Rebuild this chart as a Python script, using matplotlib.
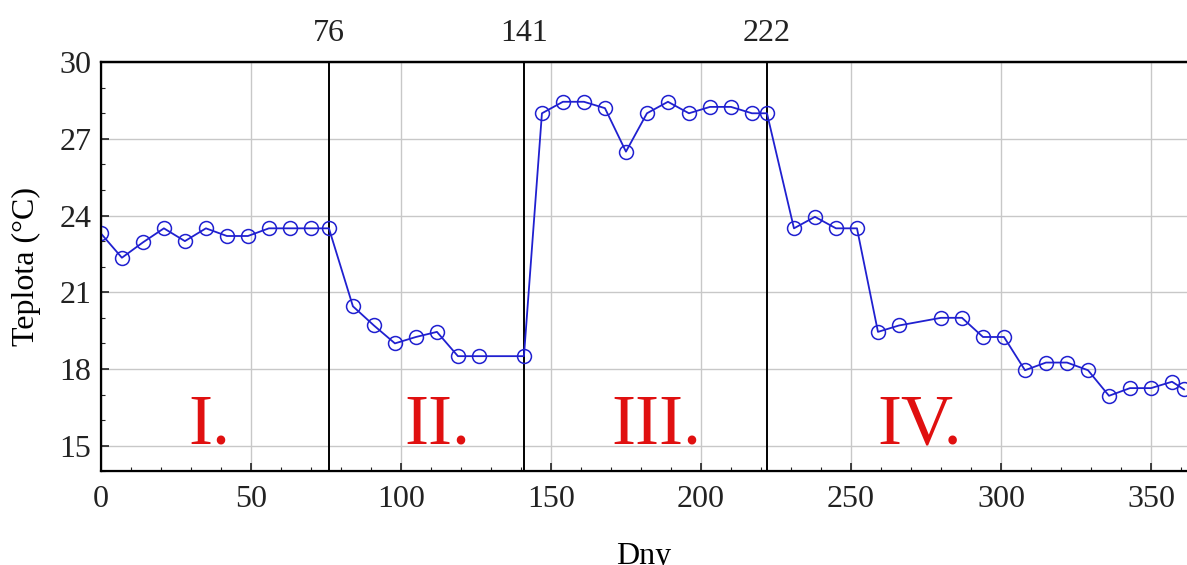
import matplotlib
matplotlib.use('Agg')
from matplotlib import pyplot as plt
from matplotlib.ticker import MultipleLocator

# weekly temperature readings
days = [0, 7, 14, 21, 28, 35, 42, 49, 56, 63, 70, 76,
        84, 91, 98, 105, 112, 119, 126, 141,
        147, 154, 161, 168, 175, 182, 189, 196, 203, 210, 217, 222,
        231, 238, 245, 252, 259, 266, 280, 287, 294, 301,
        308, 315, 322, 329, 336, 343, 350, 357, 361]
temp = [23.3, 22.35, 22.95, 23.5, 23.0, 23.5, 23.2, 23.2, 23.5, 23.5, 23.5, 23.5,
        20.45, 19.7, 19.0, 19.25, 19.45, 18.5, 18.5, 18.5,
        28.0, 28.45, 28.45, 28.2, 26.5, 28.0, 28.45, 28.0, 28.25, 28.25, 28.0, 28.0,
        23.5, 23.95, 23.5, 23.5, 19.45, 19.7, 20.0, 20.0, 19.25, 19.25,
        17.95, 18.25, 18.25, 17.95, 16.95, 17.25, 17.25, 17.5, 17.2]

boundaries = [76, 141, 222]
phases = ['I.', 'II.', 'III.', 'IV.']
phase_x = [36, 112, 185, 273]

plt.rcParams['font.family'] = ['Liberation Serif', 'DejaVu Serif']
fig = plt.figure(figsize=(11.87, 5.65), dpi=100)
ax = fig.add_axes([0.085, 0.166, 0.915, 0.724])

ax.plot(days, temp, color='#2020d0', linewidth=1.3, marker='o', markersize=10,
        markerfacecolor='none', markeredgecolor='#2020d0', markeredgewidth=1.1, zorder=3)

for b in boundaries:
    ax.axvline(b, color='black', linewidth=1.4, zorder=2)

for lab, px in zip(phases, phase_x):
    ax.text(px, 15.1, lab, color='#e01010', fontsize=52, ha='center', va='baseline')

ax.set_xlim(0, 362)
ax.set_ylim(14, 30)
ax.set_xticks([0, 50, 100, 150, 200, 250, 300, 350])
ax.set_yticks([15, 18, 21, 24, 27, 30])
ax.xaxis.set_minor_locator(MultipleLocator(10))
ax.yaxis.set_minor_locator(MultipleLocator(1))
ax.tick_params(which='both', direction='in', top=True, right=False, labelsize=23, colors='#222222')
ax.tick_params(which='major', length=6, width=1.2)
ax.tick_params(which='minor', length=3, width=0.8)
ax.tick_params(axis='x', pad=10)
ax.tick_params(axis='y', pad=7)
ax.grid(True, which='major', color='#c8c8c8', linewidth=1.0)
ax.set_axisbelow(True)
for s in ['left', 'bottom', 'top']:
    ax.spines[s].set_linewidth(1.6)
ax.spines['right'].set_visible(False)

ax.set_xlabel('Dny', fontsize=23)
ax.set_ylabel('Teplota (°C)', fontsize=23)
ax.xaxis.set_label_coords(0.5, -0.172)
ax.yaxis.set_label_coords(-0.055, 0.5)

ax2 = ax.twiny()
ax2.set_xlim(ax.get_xlim())
ax2.set_xticks(boundaries)
ax2.tick_params(length=0, labelsize=23, pad=10, colors='#222222')
ax2.spines['right'].set_visible(False)
ax2.spines['top'].set_linewidth(1.6)

fig.savefig('out.png', dpi=100)
